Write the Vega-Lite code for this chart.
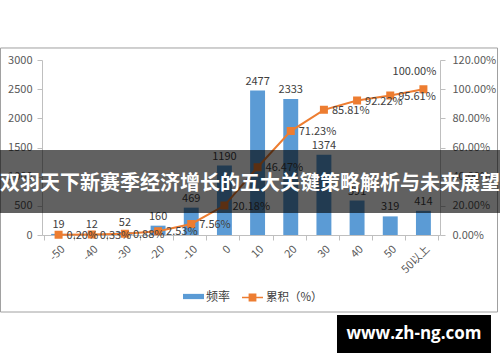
{
  "$schema": "https://vega.github.io/schema/vega-lite/v6.json",
  "width": 398,
  "height": 175,
  "autosize": {"type": "none"},
  "padding": {"left": 42, "top": 60, "right": 60, "bottom": 127},
  "background": "white",
  "config": {
    "view": {"stroke": null},
    "font": "Noto Sans CJK SC",
    "axis": {"grid": false, "domainColor": "#BFBFBF", "tickColor": "#BFBFBF", "tickSize": 5, "labelFontSize": 11, "labelColor": "#595959", "title": null}
  },
  "datasets": {
    "freq": [
      {"cat": "-50", "freq": 19, "cum": 0.0020},
      {"cat": "-40", "freq": 12, "cum": 0.0033},
      {"cat": "-30", "freq": 52, "cum": 0.0088},
      {"cat": "-20", "freq": 160, "cum": 0.0253},
      {"cat": "-10", "freq": 469, "cum": 0.0756},
      {"cat": "0", "freq": 1190, "cum": 0.2018},
      {"cat": "10", "freq": 2477, "cum": 0.4647},
      {"cat": "20", "freq": 2333, "cum": 0.7123},
      {"cat": "30", "freq": 1374, "cum": 0.8581},
      {"cat": "40", "freq": 591, "cum": 0.9222},
      {"cat": "50", "freq": 319, "cum": 0.9561},
      {"cat": "50以上", "freq": 414, "cum": 1.0}
    ],
    "overlay": [
      {"banner": "双羽天下新赛季经济增长的五大关键策略解析与未来展望", "site": "www.zh-ng.com"}
    ]
  },
  "layer": [
    {
      "data": {"name": "freq"},
      "encoding": {
        "x": {
          "field": "cat", "type": "nominal", "sort": null,
          "scale": {"paddingInner": 0.1, "paddingOuter": 0.05},
          "axis": {"labelAngle": -45, "tickBand": "extent", "labelPadding": 3}
        }
      },
      "layer": [
        {
          "encoding": {
            "y": {"field": "freq", "type": "quantitative", "scale": {"domain": [0, 3000], "nice": false},
              "axis": {"values": [0, 500, 1000, 1500, 2000, 2500, 3000], "format": "d", "labelPadding": 5}}
          },
          "layer": [
            {
              "mark": {"type": "bar", "width": {"band": 0.5}},
              "encoding": {
                "fill": {"datum": "频率", "type": "nominal", "scale": {"range": ["#5B9BD5"]},
                  "legend": {"orient": "none", "legendX": 141, "legendY": 226, "title": null,
                    "symbolType": "M-1,-0.25H1V0.25H-1Z", "symbolSize": 441, "symbolStrokeWidth": 0,
                    "labelFontSize": 12, "labelColor": "#404040", "labelOffset": 2}}
              }
            },
            {
              "mark": {"type": "text", "baseline": "bottom", "dy": -4, "fontSize": 11, "color": "#404040"},
              "encoding": {"text": {"field": "freq", "type": "quantitative", "format": "d"}}
            }
          ]
        },
        {
          "encoding": {
            "y": {"field": "cum", "type": "quantitative", "scale": {"domain": [0, 1.2], "nice": false},
              "axis": {"orient": "right", "format": ".2%", "values": [0, 0.2, 0.4, 0.6, 0.8, 1.0, 1.2], "labelPadding": 7}}
          },
          "layer": [
            {
              "mark": {"type": "line", "strokeWidth": 2, "point": {"shape": "square", "size": 36, "filled": true, "color": "#ED7D31"}},
              "encoding": {
                "stroke": {"datum": "累积（%）", "type": "nominal", "scale": {"range": ["#ED7D31"]},
                  "legend": {"orient": "none", "legendX": 199, "legendY": 226, "title": null,
                    "symbolType": "M-1,0H1M-0.3,-0.3H0.3V0.3H-0.3Z", "symbolSize": 441, "symbolStrokeWidth": 1.5,
                    "symbolFillColor": "#ED7D31", "labelFontSize": 11.5, "labelColor": "#404040", "labelOffset": 2}}
              }
            },
            {
              "transform": [{"filter": "datum.cum < 1"}],
              "mark": {"type": "text", "align": "left", "baseline": "middle", "dx": 8, "dy": 1, "fontSize": 11, "color": "#404040"},
              "encoding": {"text": {"field": "cum", "type": "quantitative", "format": ".2%"}}
            },
            {
              "transform": [{"filter": "datum.cum >= 1"}],
              "mark": {"type": "text", "align": "center", "baseline": "middle", "dx": -9, "dy": -17, "fontSize": 11, "color": "#404040"},
              "encoding": {"text": {"field": "cum", "type": "quantitative", "format": ".2%"}}
            }
          ]
        }
      ],
      "resolve": {"scale": {"y": "independent"}}
    },
    {
      "data": {"name": "overlay"},
      "layer": [
        {
          "mark": {"type": "rect", "fill": null, "stroke": "#A0A0A0", "strokeWidth": 1},
          "encoding": {
            "x": {"datum": -0.1043, "type": "quantitative", "scale": {"domain": [0, 1], "nice": false, "zero": false}, "axis": null},
            "x2": {"datum": 1.1445},
            "y": {"datum": 1.0686, "type": "quantitative", "scale": {"domain": [0, 1], "nice": false, "zero": false}, "axis": null},
            "y2": {"datum": -0.44}
          }
        },
        {
          "mark": {"type": "rect", "fill": "black", "opacity": 0.62},
          "encoding": {
            "x": {"datum": -0.1055, "type": "quantitative"},
            "x2": {"datum": 1.1508},
            "y": {"datum": 0.4857, "type": "quantitative"},
            "y2": {"datum": 0.1257}
          }
        },
        {
          "mark": {"type": "text", "align": "center", "baseline": "middle", "fontSize": 20, "fontWeight": "bold", "color": "white"},
          "encoding": {
            "x": {"datum": 0.5226, "type": "quantitative"},
            "y": {"datum": 0.2914, "type": "quantitative"},
            "text": {"field": "banner"}
          }
        },
        {
          "mark": {"type": "rect", "fill": "black"},
          "encoding": {
            "x": {"datum": 0.7412, "type": "quantitative"},
            "x2": {"datum": 1.1281},
            "y": {"datum": -0.4571, "type": "quantitative"},
            "y2": {"datum": -0.6743}
          }
        },
        {
          "mark": {"type": "text", "align": "center", "baseline": "middle", "fontSize": 17, "fontWeight": "bold", "color": "white", "font": "Open Sans"},
          "encoding": {
            "x": {"datum": 0.9347, "type": "quantitative"},
            "y": {"datum": -0.5657, "type": "quantitative"},
            "text": {"field": "site"}
          }
        }
      ]
    }
  ],
  "resolve": {"scale": {"x": "independent", "y": "independent"}}
}
